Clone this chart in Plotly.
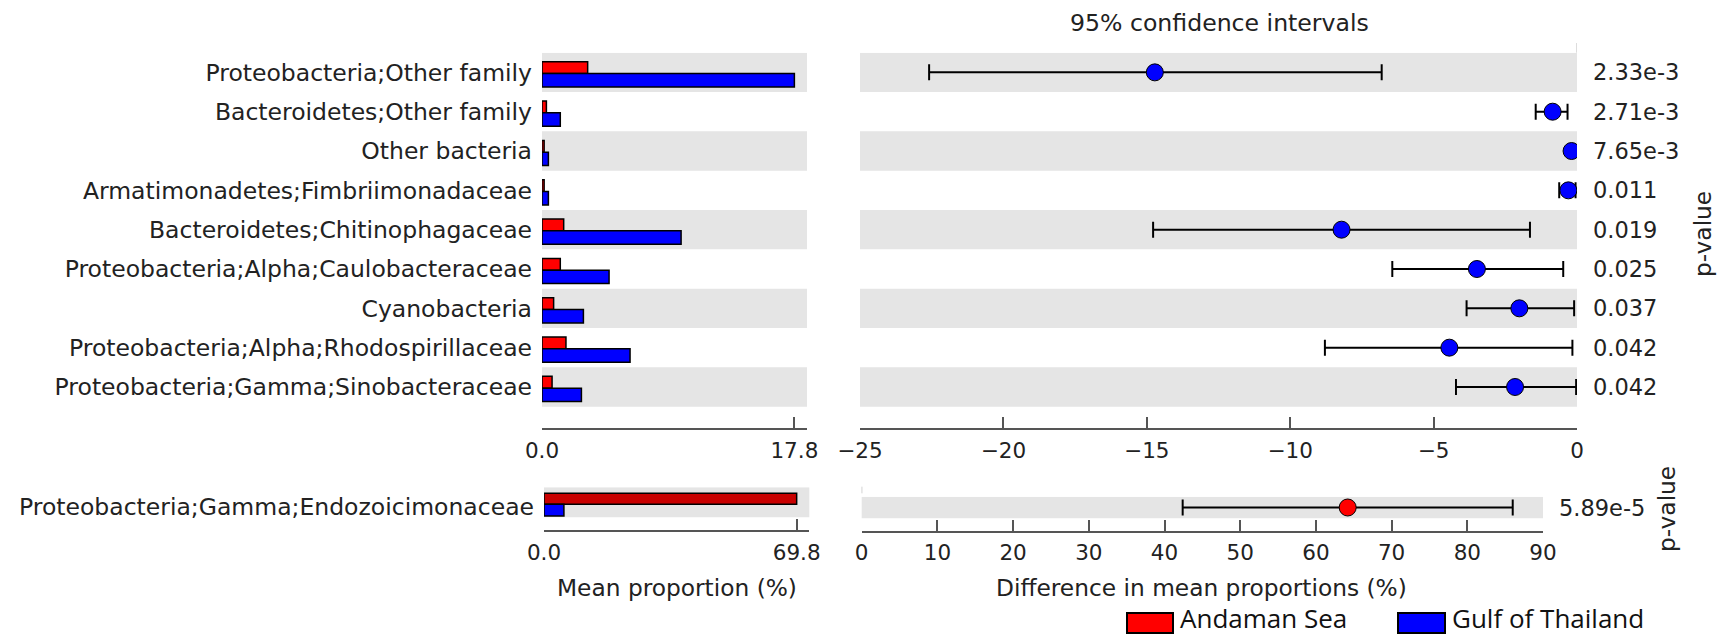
import plotly.graph_objects as go

# ---------------- data ----------------
categories = [
    "Proteobacteria;Other family",
    "Bacteroidetes;Other family",
    "Other bacteria",
    "Armatimonadetes;Fimbriimonadaceae",
    "Bacteroidetes;Chitinophagaceae",
    "Proteobacteria;Alpha;Caulobacteraceae",
    "Cyanobacteria",
    "Proteobacteria;Alpha;Rhodospirillaceae",
    "Proteobacteria;Gamma;Sinobacteraceae",
]
andaman_mean = [3.22, 0.31, 0.15, 0.15, 1.53, 1.29, 0.82, 1.69, 0.71]
gulf_mean = [17.8, 1.29, 0.45, 0.45, 9.81, 4.73, 2.92, 6.21, 2.78]
diff_mean = [-14.72, -0.85, -0.19, -0.30, -8.21, -3.49, -2.01, -4.45, -2.16]
ci_low = [-22.59, -1.44, -0.26, -0.62, -14.78, -6.44, -3.85, -8.79, -4.22]
ci_high = [-6.81, -0.33, -0.12, -0.05, -1.64, -0.48, -0.10, -0.16, -0.03]
p_values = ["2.33e-3", "2.71e-3", "7.65e-3", "0.011", "0.019", "0.025", "0.037", "0.042", "0.042"]

categories_b = ["Proteobacteria;Gamma;Endozoicimonaceae"]
andaman_mean_b = [69.8]
gulf_mean_b = [5.5]
diff_mean_b = [64.2]
ci_low_b = [42.4]
ci_high_b = [86.0]
p_values_b = ["5.89e-5"]

series_names = ["Andaman Sea", "Gulf of Thailand"]
series_colors = ["#ff0000", "#0000ff"]
bottom_bar_colors = ["#c80000", "#0000ff"]

diff_ticks_top = [-25, -20, -15, -10, -5, 0]
diff_ticks_bottom = [0, 10, 20, 30, 40, 50, 60, 70, 80, 90]

# ---------------- layout helpers ----------------
W, H = 1717, 636
FONT = "DejaVu Sans"
TXT = "#222222"
AX = "#555555"
BAND = "#e5e5e5"


def px(x):
    return x / W


def py(y):
    return 1 - y / H


rows = list(range(len(categories)))
rows_b = list(range(len(categories_b)))

fig = go.Figure()

bar_line = dict(color="black", width=1.5)

# top mean proportion bars
fig.add_trace(go.Bar(x=andaman_mean, y=rows, orientation="h", xaxis="x", yaxis="y",
                     name=series_names[0],
                     marker=dict(color=series_colors[0], line=bar_line),
                     offset=-0.27, width=0.30, showlegend=False, hoverinfo="x"))
fig.add_trace(go.Bar(x=gulf_mean, y=rows, orientation="h", xaxis="x", yaxis="y",
                     name=series_names[1],
                     marker=dict(color=series_colors[1], line=bar_line),
                     offset=0.03, width=0.34, showlegend=False, hoverinfo="x"))

# top CI
fig.add_trace(go.Scatter(
    x=diff_mean, y=rows, xaxis="x2", yaxis="y2", mode="markers",
    marker=dict(size=17, color=[series_colors[0] if d > 0 else series_colors[1] for d in diff_mean],
                line=dict(color="black", width=1)),
    error_x=dict(type="data", symmetric=False,
                 array=[h - d for h, d in zip(ci_high, diff_mean)],
                 arrayminus=[d - l for d, l in zip(diff_mean, ci_low)],
                 color="black", thickness=2, width=8),
    showlegend=False))

# bottom bars
fig.add_trace(go.Bar(x=andaman_mean_b, y=rows_b, orientation="h", xaxis="x3", yaxis="y3",
                     name=series_names[0],
                     marker=dict(color=bottom_bar_colors[0], line=bar_line),
                     offset=-0.30, width=0.367, showlegend=False, hoverinfo="x"))
fig.add_trace(go.Bar(x=gulf_mean_b, y=rows_b, orientation="h", xaxis="x3", yaxis="y3",
                     name=series_names[1],
                     marker=dict(color=bottom_bar_colors[1], line=bar_line),
                     offset=0.067, width=0.39, showlegend=False, hoverinfo="x"))

# bottom CI
fig.add_trace(go.Scatter(
    x=diff_mean_b, y=rows_b, xaxis="x4", yaxis="y4", mode="markers",
    marker=dict(size=17, color=[series_colors[0] if d > 0 else series_colors[1] for d in diff_mean_b],
                line=dict(color="black", width=1)),
    error_x=dict(type="data", symmetric=False,
                 array=[h - d for h, d in zip(ci_high_b, diff_mean_b)],
                 arrayminus=[d - l for d, l in zip(diff_mean_b, ci_low_b)],
                 color="black", thickness=2, width=8),
    showlegend=False))

tickfont = dict(family=FONT, size=21.5, color=TXT)
xcommon = dict(showline=True, linecolor=AX, linewidth=1.5, ticks="inside", ticklen=11,
               tickwidth=1.5, tickcolor=AX, showgrid=False, zeroline=False,
               tickfont=tickfont, fixedrange=True, automargin=False)
ycommon = dict(showgrid=False, zeroline=False, showline=False, ticks="", fixedrange=True,
               automargin=False, tickfont=dict(family=FONT, size=23.5, color=TXT))

max_top = max(max(andaman_mean), max(gulf_mean))
max_bot = max(max(andaman_mean_b), max(gulf_mean_b))

fig.update_layout(
    width=W, height=H, autosize=False,
    margin=dict(l=0, r=0, t=0, b=0, pad=0),
    paper_bgcolor="white", plot_bgcolor="white",
    barmode="overlay",
    showlegend=False,
    xaxis=dict(domain=[px(542), px(807)], anchor="y", range=[0, max_top * 1.05],
               tickvals=[0, max_top], ticktext=["0.0", f"{max_top:.1f}"],
               ticklabelstandoff=3, **xcommon),
    yaxis=dict(domain=[py(427.5), py(52.7)], anchor="x", range=[9.03, -0.5],
               tickvals=rows, ticktext=categories, ticklabelstandoff=9, **ycommon),
    xaxis2=dict(domain=[px(860), px(1577)], anchor="y2", range=[-25, 0],
                tickvals=diff_ticks_top, ticklabelstandoff=3, **xcommon),
    yaxis2=dict(domain=[py(427.5), py(52.7)], anchor="x2", range=[9.03, -0.5],
                showticklabels=False, **ycommon),
    xaxis3=dict(domain=[px(544), px(809.3)], anchor="y3", range=[0, max_bot * 1.05],
                tickvals=[0, max_bot], ticktext=["0.0", f"{max_bot:.1f}"],
                ticklabelstandoff=2, **xcommon),
    yaxis3=dict(domain=[py(530), py(487.3)], anchor="x3", range=[0.923, -0.5],
                tickvals=[0.15], ticktext=categories_b, ticklabelstandoff=9, **ycommon),
    xaxis4=dict(domain=[px(861.7), px(1543)], anchor="y4", range=[0, 90],
                tickvals=diff_ticks_bottom, ticklabelstandoff=2, **xcommon),
    yaxis4=dict(domain=[py(530.7), py(496.7)], anchor="x4", range=[1.074, -0.5],
                showticklabels=False, **ycommon),
)

shapes = []
for i in rows:
    if i % 2 == 0:
        for xr, yr in (("x domain", "y"), ("x2 domain", "y2")):
            shapes.append(dict(type="rect", xref=xr, yref=yr, x0=0, x1=1, y0=i - 0.5, y1=i + 0.5,
                               fillcolor=BAND, line=dict(width=0), layer="below"))
for i in rows_b:
    for xr, yr in (("x3 domain", "y3"), ("x4 domain", "y4")):
        shapes.append(dict(type="rect", xref=xr, yref=yr, x0=0, x1=1, y0=i - 0.5, y1=i + 0.5,
                           fillcolor=BAND, line=dict(width=0), layer="below"))
# small zero-line stubs
shapes.append(dict(type="line", xref="x2", yref="paper", x0=0, x1=0, y0=py(43), y1=py(52.7),
                   line=dict(color="#bbbbbb", width=1)))
shapes.append(dict(type="line", xref="x4", yref="paper", x0=0, x1=0, y0=py(486.7), y1=py(493.3),
                   line=dict(color="#999999", width=1)))

# legend boxes
legend_boxes = [(1127, 1173), (1398, 1445)]
legend_text_x = [1180, 1452]
for (x0, x1), col in zip(legend_boxes, series_colors):
    shapes.append(dict(type="rect", xref="paper", yref="paper", x0=px(x0), x1=px(x1),
                       y0=py(633), y1=py(613), fillcolor=col, line=dict(color="black", width=2)))
fig.update_layout(shapes=shapes)

ann = []
for r, p in zip(rows, p_values):
    ann.append(dict(x=px(1591), xref="paper", y=r, yref="y2", text=p, showarrow=False,
                    xanchor="left", yanchor="middle", font=dict(family=FONT, size=22.5, color=TXT)))
for r, p in zip(rows_b, p_values_b):
    ann.append(dict(x=px(1557), xref="paper", y=r, yref="y4", text=p, showarrow=False,
                    xanchor="left", yanchor="middle", font=dict(family=FONT, size=22.5, color=TXT)))


def txt(x, y, s, size=23.3, angle=0, anchor="center", family=FONT, color=TXT):
    return dict(x=px(x), y=py(y), xref="paper", yref="paper", text=s, showarrow=False,
                xanchor=anchor, yanchor="middle", textangle=angle,
                font=dict(family=family, size=size, color=color))


ann.append(txt(1219, 23, "95% confidence intervals", size=23.6))
ann.append(txt(1702, 234, "p-value", angle=-90))
ann.append(txt(1666, 509, "p-value", angle=-90))
ann.append(txt(677, 587, "Mean proportion (%)"))
ann.append(txt(1201, 587, "Difference in mean proportions (%)"))
for x, name in zip(legend_text_x, series_names):
    ann.append(txt(x - 2, 618, name, size=26, anchor="left", family="Open Sans", color="#111111"))
fig.update_layout(annotations=ann)

fig.write_html("out.html", config={"displayModeBar": False},
               post_script="document.body.style.margin='0';document.body.style.overflow='hidden';")
